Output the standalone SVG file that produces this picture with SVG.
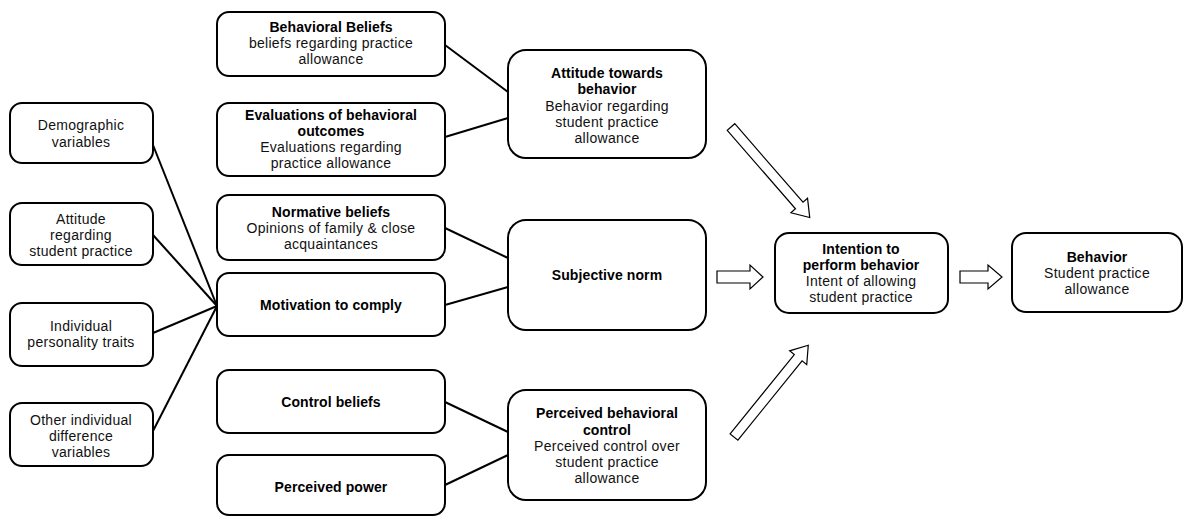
<svg xmlns="http://www.w3.org/2000/svg" width="1184" height="516" viewBox="0 0 1184 516">
<style>
.box{fill:#fff;stroke:#000;stroke-width:2}
.t{font-family:"Liberation Sans",Arial,sans-serif;font-size:14px;letter-spacing:0.3px;fill:#111;text-anchor:middle}
.b{font-weight:bold;fill:#000;letter-spacing:0.1px}
.ln{stroke:#000;stroke-width:2;fill:none}
.arr{fill:#fff;stroke:#000;stroke-width:1.2;stroke-linejoin:miter}
</style>
<rect width="1184" height="516" fill="#fff"/>
<g id="connectors">
<line class="ln" x1="153" y1="145" x2="217" y2="306"/>
<line class="ln" x1="153" y1="235" x2="217" y2="306"/>
<line class="ln" x1="153" y1="333" x2="217" y2="306"/>
<line class="ln" x1="153" y1="431" x2="217" y2="306"/>
<line class="ln" x1="445" y1="45" x2="508" y2="92"/>
<line class="ln" x1="445" y1="137" x2="508" y2="118"/>
<line class="ln" x1="445" y1="228" x2="508" y2="258"/>
<line class="ln" x1="445" y1="305" x2="508" y2="287"/>
<line class="ln" x1="445" y1="402" x2="508" y2="432"/>
<line class="ln" x1="445" y1="485" x2="508" y2="455"/>
<polygon class="arr" points="717,271 750,271 750,265 763,277 750,289 750,283 717,283"/>
<polygon class="arr" points="960,271 988,271 988,265 1002,277 988,289 988,283 960,283"/>
<polygon class="arr" transform="translate(731,127) rotate(49)" points="0,-5 104,-5 104,-11 120,0 104,11 104,5 0,5"/>
<polygon class="arr" transform="translate(734,437) rotate(-51)" points="0,-5 102,-5 102,-11 118,0 102,11 102,5 0,5"/>
</g>
<g id="demographic">
<rect class="box" x="10" y="103" width="143" height="60" rx="12"/>
<text class="t" x="81" y="130">Demographic</text>
<text class="t" x="81" y="147">variables</text>
</g>
<g id="attitude-regarding">
<rect class="box" x="10" y="203" width="143" height="62" rx="12"/>
<text class="t" x="81" y="224">Attitude</text>
<text class="t" x="81" y="240">regarding</text>
<text class="t" x="81" y="256">student practice</text>
</g>
<g id="personality">
<rect class="box" x="10" y="303" width="143" height="63" rx="12"/>
<text class="t" x="81" y="331">Individual</text>
<text class="t" x="81" y="347">personality traits</text>
</g>
<g id="other-differences">
<rect class="box" x="10" y="403" width="143" height="63" rx="12"/>
<text class="t" x="81" y="425">Other individual</text>
<text class="t" x="81" y="441">difference</text>
<text class="t" x="81" y="457">variables</text>
</g>
<g id="behavioral-beliefs">
<rect class="box" x="217" y="12" width="228" height="64" rx="12"/>
<text class="t b" x="331" y="32">Behavioral Beliefs</text>
<text class="t" x="331" y="48">beliefs regarding practice</text>
<text class="t" x="331" y="64">allowance</text>
</g>
<g id="evaluations">
<rect class="box" x="217" y="103" width="228" height="73" rx="12"/>
<text class="t b" x="331" y="120">Evaluations of behavioral</text>
<text class="t b" x="331" y="136">outcomes</text>
<text class="t" x="331" y="152">Evaluations regarding</text>
<text class="t" x="331" y="168">practice allowance</text>
</g>
<g id="normative-beliefs">
<rect class="box" x="217" y="195" width="228" height="65" rx="12"/>
<text class="t b" x="331" y="217">Normative beliefs</text>
<text class="t" x="331" y="233">Opinions of family &amp; close</text>
<text class="t" x="331" y="249">acquaintances</text>
</g>
<g id="motivation">
<rect class="box" x="217" y="273" width="228" height="63" rx="12"/>
<text class="t b" x="331" y="310">Motivation to comply</text>
</g>
<g id="control-beliefs">
<rect class="box" x="217" y="370" width="228" height="63" rx="12"/>
<text class="t b" x="331" y="407">Control beliefs</text>
</g>
<g id="perceived-power">
<rect class="box" x="217" y="455" width="228" height="60" rx="12"/>
<text class="t b" x="331" y="492">Perceived power</text>
</g>
<g id="attitude-towards">
<rect class="box" x="508" y="50" width="198" height="108" rx="18"/>
<text class="t b" x="607" y="78">Attitude towards</text>
<text class="t b" x="607" y="94">behavior</text>
<text class="t" x="607" y="111">Behavior regarding</text>
<text class="t" x="607" y="127">student practice</text>
<text class="t" x="607" y="143">allowance</text>
</g>
<g id="subjective-norm">
<rect class="box" x="508" y="220" width="198" height="110" rx="18"/>
<text class="t b" x="607" y="280">Subjective norm</text>
</g>
<g id="perceived-control">
<rect class="box" x="508" y="390" width="198" height="110" rx="18"/>
<text class="t b" x="607" y="418">Perceived behavioral</text>
<text class="t b" x="607" y="435">control</text>
<text class="t" x="607" y="451">Perceived control over</text>
<text class="t" x="607" y="467">student practice</text>
<text class="t" x="607" y="483">allowance</text>
</g>
<g id="intention">
<rect class="box" x="775" y="233" width="173" height="80" rx="14"/>
<text class="t b" x="861" y="254">Intention to</text>
<text class="t b" x="861" y="270">perform behavior</text>
<text class="t" x="861" y="286">Intent of allowing</text>
<text class="t" x="861" y="302">student practice</text>
</g>
<g id="behavior">
<rect class="box" x="1012" y="233" width="170" height="79" rx="14"/>
<text class="t b" x="1097" y="262">Behavior</text>
<text class="t" x="1097" y="278">Student practice</text>
<text class="t" x="1097" y="294">allowance</text>
</g>
</svg>
